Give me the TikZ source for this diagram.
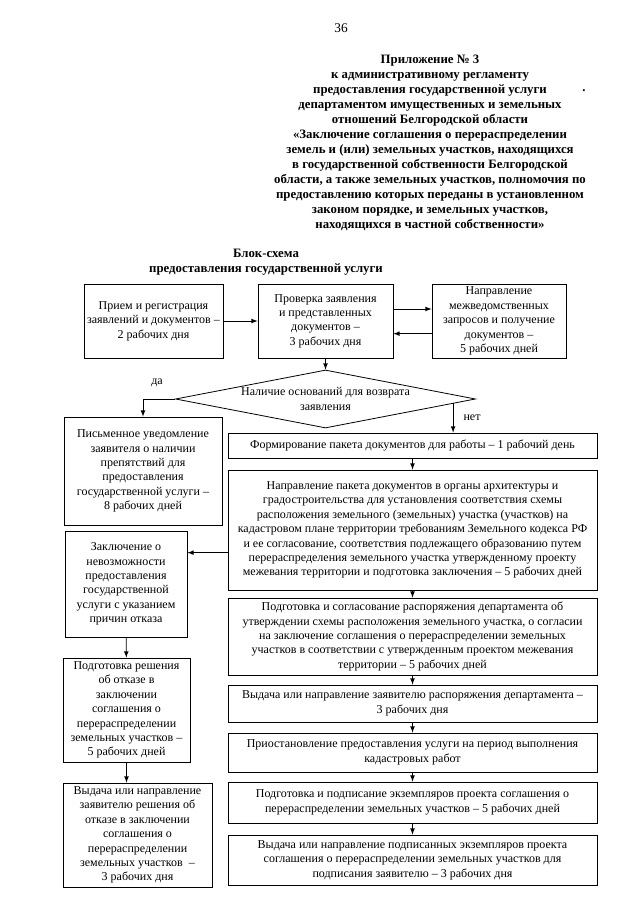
\documentclass[tikz,border=0pt]{standalone}
\usepackage{fontspec}
\setmainfont{Liberation Serif}
\usetikzlibrary{positioning,shapes.geometric}

\newcommand{\bxfont}{\fontsize{9}{10.8}\selectfont}
\newcommand{\hdfont}{\fontsize{9.6}{11.2}\selectfont\bfseries}

\tikzset{
  blok/.style={draw, line width=0.6pt, align=center, font=\bxfont, inner sep=1pt},
  sz/.style 2 args={minimum width=#1*0.75pt, minimum height=#2*0.75pt},
  romb/.style={diamond, draw, line width=0.6pt, aspect=5.17, inner sep=0pt,
    align=center, font=\bxfont, minimum width=225pt, minimum height=43.5pt},
  strl/.style={->, >=latex, line width=0.6pt}
}

\begin{document}
\begin{tikzpicture}[x=0.75pt, y=-0.75pt]
  % page
  \fill[white] (0,0) rectangle (640,905);
  \useasboundingbox (0,0) rectangle (640,905);

  % header
  \node[font=\fontsize{10}{12}\selectfont] (nomer) at (341,28) {36};
  \node[font=\hdfont, align=center] (prilozh) at (430,143) {Приложение № 3\\
    к административному регламенту\\
    предоставления государственной услуги\\
    департаментом имущественных и земельных\\
    отношений Белгородской области\\
    «Заключение соглашения о перераспределении\\
    земель и (или) земельных участков, находящихся\\
    в государственной собственности Белгородской\\
    области, а также земельных участков, полномочия по\\
    предоставлению которых переданы в установленном\\
    законом порядке, и земельных участков,\\
    находящихся в частной собственности»};
  \node[font=\hdfont] (tochka) at (584,91) {.};
  \node[font=\hdfont, align=center] (zagol) at (266,262) {Блок-схема\\
    предоставления государственной услуги};

  % top row
  \node[blok, sz={139}{74}] (priem) at (153.5,321) {Прием и регистрация\\заявлений и документов –\\2 рабочих дня};
  \node[blok, sz={135}{74}] (proverka) at (325.5,321) {Проверка заявления\\и представленных\\документов –\\3 рабочих дня};
  \node[blok, sz={134}{74}] (mezhved) at (499,321) {Направление\\межведомственных\\запросов и получение\\документов –\\5 рабочих дней};

  \draw[strl] (priem) -- (proverka);
  \draw[strl] ([yshift=9pt]proverka.east) -- ([yshift=9pt]mezhved.west);
  \draw[strl] ([yshift=-9.5pt]mezhved.west) -- ([yshift=-9.5pt]proverka.east);

  % decision
  \node[romb] (osnov) at (325.5,399) {Наличие оснований для возврата\\заявления};
  \draw[strl] (proverka) -- (osnov);

  % left branch
  \node[blok, sz={158}{108}] (pismo) at (143,471) {Письменное уведомление\\заявителя о наличии\\препятствий для\\предоставления\\государственной услуги –\\8 рабочих дней};
  \node[blok, sz={122}{106}] (zakl) at (126,584) {Заключение о\\невозможности\\предоставления\\государственной\\услуги с указанием\\причин отказа};
  \node[blok, sz={127}{104}] (reshen) at (126.5,710) {Подготовка решения\\об отказе в\\заключении\\соглашения о\\перераспределении\\земельных участков –\\5 рабочих дней};
  \node[blok, sz={149}{104}] (vydotk) at (137.5,835) {Выдача или направление\\заявителю решения об\\отказе в заключении\\соглашения о\\перераспределении\\земельных участков ~–\\3 рабочих дня};

  \draw[strl] (osnov.west) -| (pismo.north);
  \node (da) at (157,383) {\bxfont да};
  \draw[strl] (zakl) -- (reshen);
  \draw[strl] (reshen.south) -- (reshen.south |- vydotk.north);

  % right branch
  \node[blok, sz={369}{25}] (formir) at (412.5,445.5) {Формирование пакета документов для работы – 1 рабочий день};
  \node[blok, sz={369}{120}] (napravl) at (412.5,530) {Направление пакета документов в органы архитектуры и\\градостроительства для установления соответствия схемы\\расположения земельного (земельных) участка (участков) на\\кадастровом плане территории требованиям Земельного кодекса РФ\\и ее согласование, соответствия подлежащего образованию путем\\перераспределения земельного участка утвержденному проекту\\межевания территории и подготовка заключения – 5 рабочих дней};
  \node[blok, sz={369}{77}] (rasp) at (412.5,636.5) {Подготовка и согласование распоряжения департамента об\\утверждении схемы расположения земельного участка, о согласии\\на заключение соглашения о перераспределении земельных\\участков в соответствии с утвержденным проектом межевания\\территории – 5 рабочих дней};
  \node[blok, sz={369}{37}] (vydrasp) at (412.5,703.5) {Выдача или направление заявителю распоряжения департамента –\\3 рабочих дня};
  \node[blok, sz={369}{39}] (priost) at (412.5,752.5) {Приостановление предоставления услуги на период выполнения\\кадастровых работ};
  \node[blok, sz={369}{41}] (podpis) at (412.5,802.5) {Подготовка и подписание экземпляров проекта соглашения о\\перераспределении земельных участков – 5 рабочих дней};
  \node[blok, sz={369}{50}] (vydpodp) at (412.5,860) {Выдача или направление подписанных экземпляров проекта\\соглашения о перераспределении земельных участков для\\подписания заявителю – 3 рабочих дня};

  \draw[strl] (osnov.-2) -- (osnov.-2 |- formir.north);
  \node (net) at (472,418) {\bxfont нет};
  \draw[strl] (formir) -- (napravl);
  \draw[strl] (napravl) -- (rasp);
  \draw[strl] (rasp) -- (vydrasp);
  \draw[strl] (vydrasp) -- (priost);
  \draw[strl] (priost) -- (podpis);
  \draw[strl] (podpis) -- (vydpodp);

  % refusal from the check
  \coordinate (otkaz) at ([yshift=-17pt]napravl.west);
  \draw[strl] (otkaz) -- (otkaz -| zakl.east);
\end{tikzpicture}
\end{document}
